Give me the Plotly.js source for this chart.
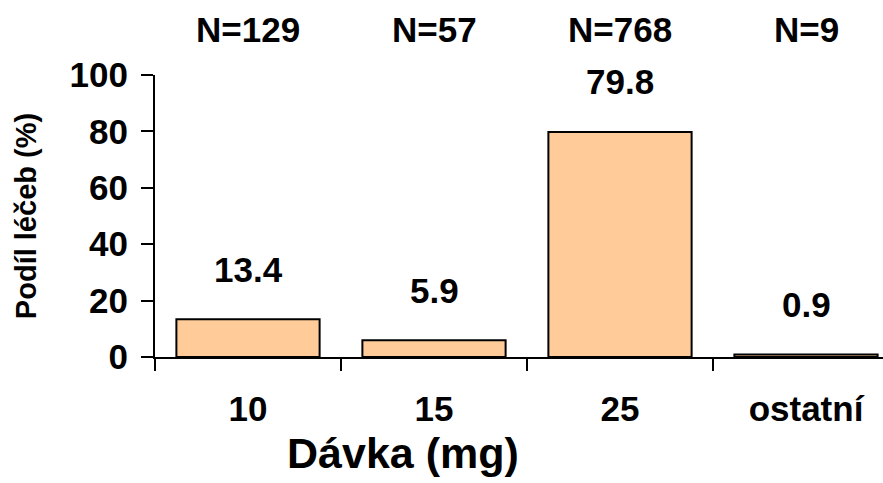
<!DOCTYPE html>
<html><head><meta charset="utf-8">
<script src="https://cdn.plot.ly/plotly-3.0.1.min.js"></script>
<style>html,body{margin:0;padding:0;overflow:hidden;background:#fff}#chart{width:900px;height:483px}</style>
</head><body><div id="chart"></div>
<script>
const categories = ["10", "15", "25", "ostatní"];
const shares = [13.4, 5.9, 79.8, 0.9];
const counts = ["N=129", "N=57", "N=768", "N=9"];
const valueLabels = ["13.4", "5.9", "79.8", "0.9"];
const yTicks = [0, 20, 40, 60, 80, 100];
const xTitle = "Dávka (mg)";
const yTitle = "Podíl léčeb (%)";

const FONT = "Liberation Sans, Arial, sans-serif";

const trace = {
  type: "bar",
  x: categories,
  y: shares,
  marker: {color: "#FFCC99", line: {color: "#000", width: 2}},
  hoverinfo: "none"
};

const annotations = [];
categories.forEach((c, i) => {
  annotations.push({
    x: i, y: shares[i], xref: "x", yref: "y",
    text: valueLabels[i], showarrow: false,
    yanchor: "middle", yshift: 50,
    font: {family: FONT, size: 35, color: "#000", weight: "bold"}
  });
  annotations.push({
    x: i, y: 1.16, xref: "x", yref: "paper",
    text: counts[i], showarrow: false,
    yanchor: "middle",
    font: {family: FONT, size: 35, color: "#000", weight: "bold"}
  });
});
annotations.push({
  x: 0.334, y: -0.34, xref: "paper", yref: "paper",
  text: xTitle, showarrow: false, xanchor: "center", yanchor: "middle",
  font: {family: FONT, size: 43, color: "#000", weight: "bold"}
});

const layout = {
  width: 900, height: 483,
  margin: {l: 155, r: 1, t: 75, b: 126},
  paper_bgcolor: "#fff", plot_bgcolor: "#fff",
  showlegend: false,
  bargap: 0.23,
  font: {family: FONT, color: "#000", weight: "bold"},
  xaxis: {
    type: "category",
    range: [-0.5, 3.5],
    tickangle: 0,
    showline: true, linecolor: "#000", linewidth: 2,
    ticks: "outside", tickson: "boundaries", ticklen: 12, tickwidth: 2, tickcolor: "#000",
    ticklabelstandoff: 20,
    tickfont: {family: FONT, size: 35, color: "#000", weight: "bold"},
    showgrid: false, zeroline: false
  },
  yaxis: {
    range: [0, 100],
    tickvals: yTicks,
    showline: true, linecolor: "#000", linewidth: 2,
    ticks: "outside", ticklen: 12, tickwidth: 2, tickcolor: "#000",
    ticklabelstandoff: 6,
    tickfont: {family: FONT, size: 35, color: "#000", weight: "bold"},
    showgrid: false, zeroline: false,
    title: {text: yTitle, standoff: 24, font: {family: FONT, size: 29, color: "#000", weight: "bold"}}
  },
  annotations: annotations
};

Plotly.newPlot("chart", [trace], layout, {displayModeBar: false, staticPlot: true});
</script>
</body></html>
